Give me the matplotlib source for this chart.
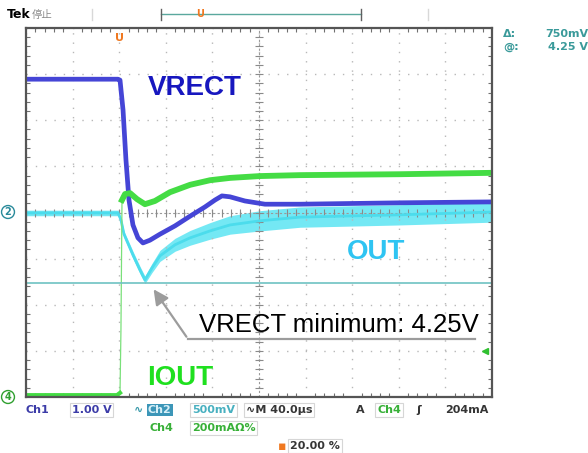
import matplotlib.pyplot as plt

# screen is 10 div x 8 div, 40 us/div; trace values in divisions
# VRECT (Ch1)
vrect_t = [0, 79, 80.7, 83.3, 85.8, 88.4, 91.8, 96.1, 100.4, 106.4, 115, 127.9, 140.8,
           153.6, 162.2, 168.2, 175.1, 187.9, 205.1, 235.2, 321, 400]
vrect_div = [2.89, 2.89, 2.87, 2.22, 1.14, 0.27, -0.27, -0.55, -0.66, -0.60, -0.47, -0.29,
             -0.08, 0.12, 0.27, 0.36, 0.34, 0.25, 0.18, 0.18, 0.21, 0.23]

# OUT (Ch2), centre of the noisy band and its half width
out_t = [0, 79, 81.5, 84.1, 91.8, 97.9, 102.1, 108.2, 115.0, 127.9, 140.8, 157.9, 175.1,
         200.9, 235.2, 321, 400]
out_div = [-0.01, -0.01, -0.16, -0.47, -0.92, -1.25, -1.46, -1.20, -0.94, -0.70, -0.55,
           -0.40, -0.27, -0.18, -0.10, -0.05, 0.01]
out_spread = [0.06, 0.06, 0.06, 0.07, 0.08, 0.08, 0.08, 0.10, 0.12, 0.14, 0.16, 0.18,
              0.20, 0.22, 0.22, 0.22, 0.22]

# IOUT (Ch4)
iout_t = [0, 78.1, 80.7, 81.5, 82.4, 85.0, 89.3, 95.3, 102.1, 110.7, 123.6, 140.8, 158.0,
          175.1, 200.9, 235.2, 321, 400]
iout_div = [-3.96, -3.96, -3.91, -2.55, 0.27, 0.40, 0.42, 0.29, 0.18, 0.25, 0.44, 0.60,
            0.70, 0.75, 0.79, 0.81, 0.83, 0.86]

cursor_div = -1.53   # cursor at 4.25 V
trig_t = 80          # trigger position 20 %

W, H = 588, 453
fig = plt.figure(figsize=(W / 100, H / 100), dpi=100)
ax = fig.add_axes([26 / W, 56 / H, 466 / W, 369 / H])
ax.set_xlim(0, 400)
ax.set_ylim(-4, 4)


def fx(x):
    return x / W


def fy(y):
    return 1 - y / H


def px2data(x, y):
    return (x - 26) * 400 / 466, (212.5 - y) / 46.125


# graticule
ax.set_xticks(range(0, 401, 40))
ax.set_yticks(range(-4, 5))
ax.set_xticks([i * 8 for i in range(51)], minor=True)
ax.set_yticks([i * 0.2 - 4 for i in range(41)], minor=True)
ax.grid(True, which='major', color='#b8b8b8', linestyle=(0, (1, 5.7)), lw=1.0)
ax.tick_params(which='both', direction='in', top=True, right=True,
               labelbottom=False, labelleft=False, color='#707070')
ax.tick_params(which='major', length=0)
ax.tick_params(which='minor', length=3, width=0.8)
for s in ax.spines.values():
    s.set_color('#555555')
    s.set_linewidth(1.6)
ax.axvline(200, color='#9a9a9a', lw=0.8, linestyle=(0, (2, 2)))
ax.axhline(0, color='#9a9a9a', lw=0.8, linestyle=(0, (2, 2)))
ax.plot([200] * 41, [i * 0.2 - 4 for i in range(41)], ls='none', marker='_',
        ms=6, color='#8a8a8a', mew=0.8)
ax.plot([i * 8 for i in range(51)], [0] * 51, ls='none', marker='|',
        ms=6, color='#8a8a8a', mew=0.8)

# traces
lo = [c - s for c, s in zip(out_div, out_spread)]
hi = [c + s for c, s in zip(out_div, out_spread)]
ax.fill_between(out_t, lo, hi, color='#74e8f4', lw=0)
ax.plot(out_t, out_div, color='#4cdcec', lw=2.0)

ax.plot(vrect_t, vrect_div, color='#4545d6', lw=3.4, solid_joinstyle='round')

ax.plot(iout_t, iout_div, color='#7ae07a', lw=0.9)
ax.plot(iout_t[:3], iout_div[:3], color='#44dc44', lw=3.0)
ax.plot(iout_t[4:], iout_div[4:], color='#44dc44', lw=4.2, solid_joinstyle='round')

ax.axhline(cursor_div, color='#6ec2c2', lw=1.2)
ax.plot([394], [-3.0], marker='<', ms=4, color='#30c030')

# labels
ax.text(*px2data(148, 95), 'VRECT', color='#1717bf', fontsize=20,
        fontweight='bold', family='Liberation Sans')
ax.text(*px2data(347, 259), 'OUT', color='#2fc4f2', fontsize=20,
        fontweight='bold', family='Liberation Sans')
ax.text(*px2data(147, 385), 'IOUT', color='#1fe01f', fontsize=20,
        fontweight='bold', family='Liberation Sans')
ax.text(*px2data(199, 332), 'VRECT minimum: 4.25V', color='black', fontsize=18.5,
        family='Liberation Sans')
ax.plot(*zip(px2data(188, 339), px2data(475, 339)), color='#9c9c9c', lw=1.6)
ax.annotate('', xy=px2data(152, 287), xytext=px2data(188, 339),
            arrowprops=dict(arrowstyle='-|>,head_length=0.9,head_width=0.45',
                            color='#9c9c9c', lw=1.6))

# trigger marker on screen
ax.text(trig_t, 3.78, 'U', color='#f07820', fontsize=8, fontweight='bold',
        ha='center', va='center')

# scope readouts around the screen
sf = dict(fontsize=8, fontweight='bold', family='DejaVu Sans', va='center')
fig.text(fx(7), fy(15), 'Tek', color='black', fontsize=9, fontweight='bold', va='center')
fig.text(fx(32), fy(15), '停止', color='#8a8a8a', fontsize=7.5,
         family=['Noto Sans CJK SC', 'DejaVu Sans'], va='center')
fig.lines.append(plt.Line2D([fx(161), fx(361)], [fy(14), fy(14)], color='#5aa89e',
                            lw=1, transform=fig.transFigure))
for xx in (161, 361):
    fig.lines.append(plt.Line2D([fx(xx), fx(xx)], [fy(9), fy(20)], color='#606060',
                                lw=1, transform=fig.transFigure))
for xx in (92, 428):
    fig.lines.append(plt.Line2D([fx(xx), fx(xx)], [fy(9), fy(20)], color='#d8d8d8',
                                lw=1, transform=fig.transFigure))
fig.text(fx(200), fy(14), 'U', color='#f07820', fontsize=7, fontweight='bold',
         ha='center', va='center')

fig.text(fx(503), fy(34), 'Δ:', color='#3a9a9a', **sf)
fig.text(fx(588), fy(34), '750mV', color='#3a9a9a', ha='right', fontsize=8,
         fontweight='bold', va='center')
fig.text(fx(503), fy(47), '@:', color='#3a9a9a', **sf)
fig.text(fx(588), fy(47), '4.25 V', color='#3a9a9a', ha='right', fontsize=8,
         fontweight='bold', va='center')

fig.text(fx(8), fy(212), '2', color='#2a8a9a', fontsize=7, fontweight='bold',
         ha='center', va='center',
         bbox=dict(boxstyle='circle,pad=0.15', fc='white', ec='#2a8a9a', lw=1))
fig.text(fx(8), fy(397), '4', color='#30a030', fontsize=7, fontweight='bold',
         ha='center', va='center',
         bbox=dict(boxstyle='circle,pad=0.15', fc='white', ec='#30a030', lw=1))

box = dict(boxstyle='square,pad=0.15', fc='white', ec='#d6d6d6', lw=0.8)
fig.text(fx(26), fy(410), 'Ch1', color='#3c3ca8', **sf)
fig.text(fx(72), fy(410), '1.00 V', color='#3c3ca8', bbox=box, **sf)
fig.text(fx(134), fy(410), '∿', color='#3a9aaa', **sf)
fig.text(fx(148), fy(410), 'Ch2', color='#d8f0f8', **sf,
         bbox=dict(boxstyle='square,pad=0.1', fc='#3c96b8', ec='none'))
fig.text(fx(192), fy(410), '500mV', color='#48b0c0', bbox=box, **sf)
fig.text(fx(246), fy(410), '∿M 40.0µs', color='#353535', bbox=box, **sf)
fig.text(fx(356), fy(410), 'A', color='#353535', **sf)
fig.text(fx(377), fy(410), 'Ch4', color='#38b038', bbox=box, **sf)
fig.text(fx(416), fy(410), 'ʃ', color='#353535', **sf)
fig.text(fx(445), fy(410), '204mA', color='#353535', **sf)
fig.text(fx(149), fy(428), 'Ch4', color='#38b038', **sf)
fig.text(fx(192), fy(428), '200mAΩ%', color='#38b038', bbox=box, **sf)
fig.text(fx(278), fy(446), '▪', color='#f07820', fontsize=9, va='center')
fig.text(fx(290), fy(446), '20.00 %', color='#353535', bbox=box, **sf)

fig.savefig('out.png', dpi=100)
